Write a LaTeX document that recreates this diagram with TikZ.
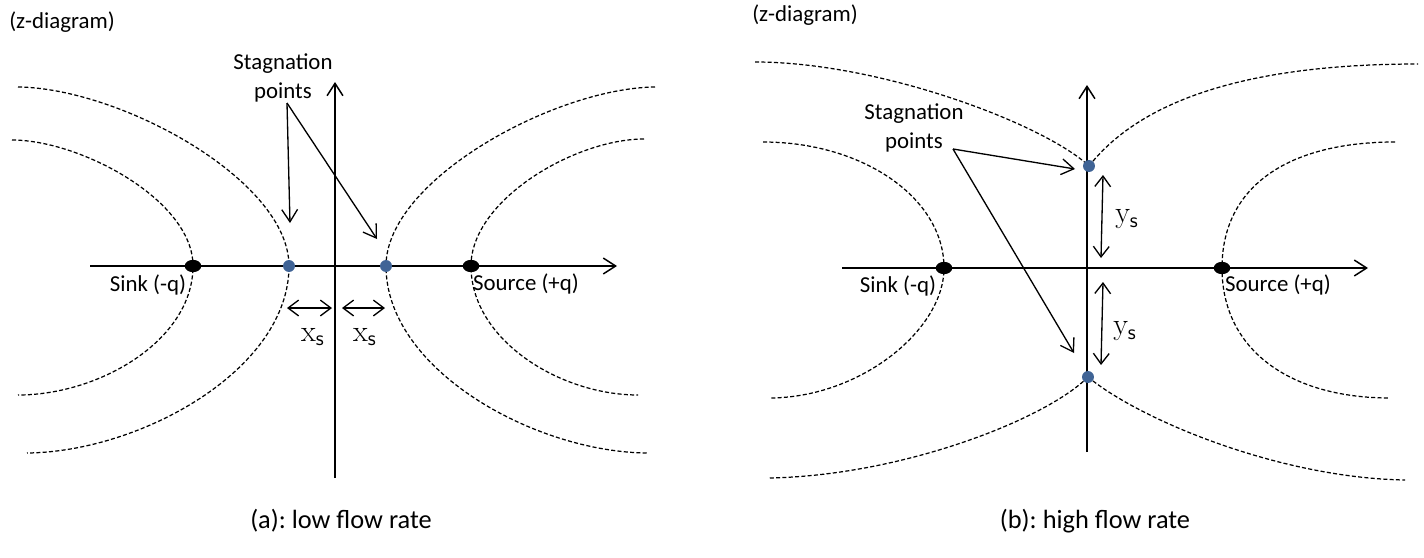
\documentclass[tikz,border=0pt]{standalone}
\usepackage[no-math]{fontspec}
\setmainfont{Carlito}
\usetikzlibrary{arrows.meta,shapes.geometric}
\definecolor{stagblue}{RGB}{64,100,150}
\frenchspacing
\begin{document}
\begin{tikzpicture}[x=0.02cm,y=-0.02cm,
  axis/.style={line width=0.85pt,-{Straight Barb[length=7pt,width=9pt]}},
  stream/.style={line width=0.7pt,dash pattern=on 2.3pt off 1.3pt},
  pointer/.style={line width=0.75pt,-{Straight Barb[length=7pt,width=9pt]}},
  dimarrow/.style={line width=0.75pt,{Straight Barb[length=6pt,width=9pt]}-{Straight Barb[length=6pt,width=9pt]}},
  chargedot/.style={ellipse,fill=black,minimum width=9.4pt,minimum height=7pt,inner sep=0pt},
  stagdot/.style={circle,fill=stagblue,minimum size=6.8pt,inner sep=0pt},
  lbl/.style={font=\fontsize{13}{16.4}\selectfont,inner sep=0pt,align=center},
  captxt/.style={font=\fontsize{15}{18}\selectfont,inner sep=0pt},
  mlbl/.style={font=\fontsize{17}{19}\selectfont,inner sep=0pt}]
\useasboundingbox (0,0) rectangle (1424,558);

% ---------------- (a) low flow rate ----------------
\coordinate (aXl) at (90,266);
\coordinate (aXr) at (617,266);
\coordinate (aYb) at (335,478);
\coordinate (aYt) at (335,82);
\coordinate (sinkA) at (193,266);
\coordinate (srcA) at (471,266);
\coordinate (sA1) at (289,266);
\coordinate (sA2) at (386,266);

\draw[stream] (18,87) .. controls (120,88) and (289,180) .. (sA1)
  .. controls (289,370) and (140,452) .. (27,453);
\draw[stream] (12,140) .. controls (80,140) and (193,200) .. (sinkA)
  .. controls (193,340) and (100,395) .. (18,395);
\draw[stream] (655,87) .. controls (555,88) and (386,180) .. (sA2)
  .. controls (386,370) and (535,452) .. (647,453);
\draw[stream] (644,139) .. controls (575,139) and (471,200) .. (srcA)
  .. controls (471,340) and (560,395) .. (638,395);

\draw[axis] (aXl) -- (aXr);
\draw[axis] (aYb) -- (aYt);
\node[chargedot] (sinkAdot) at (sinkA) {};
\node[chargedot] (srcAdot) at (srcA) {};
\node[stagdot] (sA1dot) at (sA1) {};
\node[stagdot] (sA2dot) at (sA2) {};

\node[lbl] (zA) at (62,22) {(z-diagram)};
\node[lbl] (stagA) at (283,78) {Stagnation\\points};
\coordinate (ptA) at (287,103);
\coordinate (tipA1) at (290,223);
\coordinate (tipA2) at (377,239);
\draw[pointer] (ptA) -- (tipA1);
\draw[pointer] (ptA) -- (tipA2);

\coordinate (dA1l) at (287,308);
\coordinate (dA1r) at (332,308);
\coordinate (dA2l) at (342,308);
\coordinate (dA2r) at (385,308);
\draw[dimarrow] (dA1l) -- (dA1r);
\draw[dimarrow] (dA2l) -- (dA2r);
\node[mlbl] (xsA1) at (313,337) {$\mathrm{x}_{\mathsf{s}}$};
\node[mlbl] (xsA2) at (365,337) {$\mathrm{x}_{\mathsf{s}}$};

\node[lbl] (sinkAl) at (148,285) {Sink (-q)};
\node[lbl] (srcAl) at (526,284) {Source (+q)};
\node[captxt] (capA) at (341,521) {(a): low flow rate};

% ---------------- (b) high flow rate ----------------
\coordinate (bXl) at (842,268);
\coordinate (bXr) at (1368,268);
\coordinate (bYb) at (1087,452);
\coordinate (bYt) at (1087,85);
\coordinate (sinkB) at (944,268);
\coordinate (srcB) at (1222,268);
\coordinate (sB1) at (1089,166);
\coordinate (sB2) at (1088,377);

\draw[stream] (755,62) .. controls (880,62) and (1044,124) .. (sB1);
\draw[stream] (sB1) .. controls (1145,95) and (1260,64) .. (1418,64);
\draw[stream] (sB2) .. controls (1045,420) and (900,476) .. (768,478);
\draw[stream] (sB2) .. controls (1140,420) and (1280,478) .. (1405,480);
\draw[stream] (763,142) .. controls (863,142) and (944,198) .. (sinkB)
  .. controls (944,330) and (860,398) .. (769,398);
\draw[stream] (1395,142) .. controls (1290,142) and (1222,185) .. (srcB)
  .. controls (1222,350) and (1290,398) .. (1390,398);

\draw[axis] (bXl) -- (bXr);
\draw[axis] (bYb) -- (bYt);
\node[chargedot] (sinkBdot) at (sinkB) {};
\node[chargedot] (srcBdot) at (srcB) {};
\node[stagdot] (sB1dot) at (sB1) {};
\node[stagdot] (sB2dot) at (sB2) {};

\node[lbl] (zB) at (805,15) {(z-diagram)};
\node[lbl] (stagB) at (914,128) {Stagnation\\points};
\coordinate (ptB) at (953,149);
\coordinate (tipB1) at (1075,169);
\coordinate (tipB2) at (1074,353);
\draw[pointer] (ptB) -- (tipB1);
\draw[pointer] (ptB) -- (tipB2);

\coordinate (dB1t) at (1103,175);
\coordinate (dB1b) at (1101,258);
\coordinate (dB2t) at (1103,282);
\coordinate (dB2b) at (1101,365);
\draw[dimarrow] (dB1t) -- (dB1b);
\draw[dimarrow] (dB2t) -- (dB2b);
\node[mlbl] (ysB1) at (1127,219) {$\mathrm{y}_{\mathsf{s}}$};
\node[mlbl] (ysB2) at (1125,331) {$\mathrm{y}_{\mathsf{s}}$};

\node[lbl] (sinkBl) at (898,286) {Sink (-q)};
\node[lbl] (srcBl) at (1278,285) {Source (+q)};
\node[captxt] (capB) at (1095,521) {(b): high flow rate};
\end{tikzpicture}
\end{document}
